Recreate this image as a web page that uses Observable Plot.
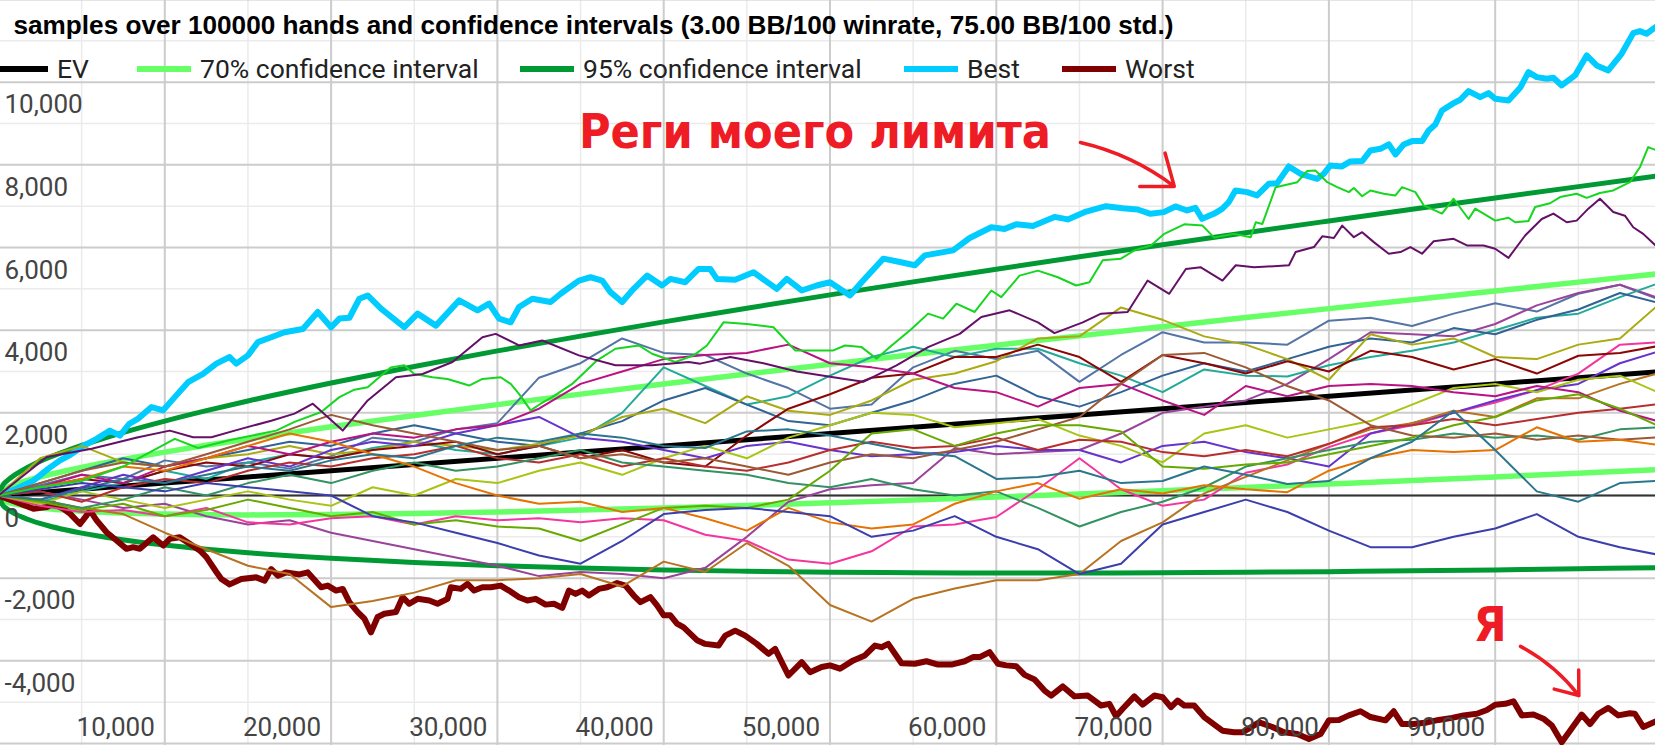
<!DOCTYPE html>
<html>
<head>
<meta charset="utf-8">
<script src="https://cdn.jsdelivr.net/npm/d3@7"></script>
<script src="https://cdn.jsdelivr.net/npm/@observablehq/plot@0.6"></script>
<style>
  html, body { margin: 0; padding: 0; background: #fff; overflow: hidden; }
  #wrap { position: relative; width: 1655px; height: 745px; overflow: hidden; }
  #overlay { position: absolute; left: 0; top: 0; pointer-events: none; }
</style>
</head>
<body>
<div id="wrap"></div>
<script>
// ---------------- DATA ----------------
const titleText = "samples over 100000 hands and confidence intervals (3.00 BB/100 winrate, 75.00 BB/100 std.)";
const legendLabels = ["EV", "70% confidence interval", "95% confidence interval", "Best", "Worst"];
const legendColors = ["#000000", "#66ff66", "#009933", "#00ccff", "#800000"];

const yLabelValues = [-4000, -2000, 0, 2000, 4000, 6000, 8000, 10000];
const xLabelValues = [10000, 20000, 30000, 40000, 50000, 60000, 70000, 80000, 90000];
const majorY = [-6000, -4000, -2000, 0, 2000, 4000, 6000, 8000, 10000, 12000];
const minorY = [-5000, -3000, -1000, 1000, 3000, 5000, 7000, 9000, 11000];
const majorX = [0, 10000, 20000, 30000, 40000, 50000, 60000, 70000, 80000, 90000, 100000];
const minorX = [5000, 15000, 25000, 35000, 45000, 55000, 65000, 75000, 85000, 95000];

// confidence curves (hands, BB)
const ciHands = [0,250,500,1000,1500,2000,3000,4000,5000,6000,8000,10000,12500,15000,20000,25000,30000,35000,40000,45000,50000,55000,60000,65000,70000,75000,80000,85000,90000,95000,100000];
const evLine  = [0,8,15,30,45,60,90,120,150,180,240,300,375,450,600,750,900,1050,1200,1350,1500,1650,1800,1950,2100,2250,2400,2550,2700,2850,3000];
const upper70 = [0,126,183,267,336,395,501,594,680,761,911,1050,1214,1369,1661,1936,2199,2453,2700,2941,3177,3409,3637,3862,4084,4304,4521,4737,4950,5162,5372];
const lower70 = [0,-111,-153,-207,-246,-275,-321,-354,-380,-401,-431,-450,-464,-469,-461,-436,-399,-353,-300,-241,-177,-109,-37,38,116,196,279,363,450,538,628];
const upper95 = [0,245,350,504,626,731,912,1069,1211,1342,1582,1800,2052,2287,2721,3122,3498,3856,4200,4532,4854,5168,5474,5774,6068,6358,6642,6923,7200,7473,7743];
const lower95 = [0,-230,-320,-444,-536,-611,-732,-829,-911,-982,-1102,-1200,-1302,-1387,-1521,-1622,-1698,-1756,-1800,-1832,-1854,-1868,-1874,-1874,-1868,-1858,-1842,-1823,-1800,-1773,-1743];

// Best sample [hands, BB]
const bestPath = [[0,0],[1000,150],[2100,360],[3000,650],[3700,850],[4300,980],[5100,1200],[5900,1370],[6700,1570],[7300,1450],[7850,1730],[8400,1860],[9200,2140],[9900,2060],[10600,2380],[11400,2740],[12300,2940],[13100,3190],[13900,3350],[14300,3190],[15000,3390],[15600,3710],[16400,3830],[17200,3950],[18300,4030],[19200,4440],[20000,4070],[20500,4280],[21100,4300],[21700,4760],[22200,4840],[23000,4520],[24400,4070],[25200,4400],[26300,4110],[27700,4720],[28800,4480],[29500,4640],[30100,4280],[30800,4190],[31300,4560],[32100,4760],[33200,4680],[33800,4880],[34900,5200],[35600,5280],[36300,5200],[36800,4920],[37500,4680],[38100,4960],[39000,5320],[39900,5080],[40400,5240],[41300,5160],[42100,5480],[42800,5480],[43200,5240],[44300,5220],[45400,5400],[46800,5000],[47400,5240],[48300,4960],[49200,5080],[50000,5160],[51200,4840],[51900,5160],[53200,5730],[54200,5650],[55100,5570],[55700,5810],[57400,5930],[58400,6230],[59700,6490],[60500,6450],[61200,6560],[62200,6520],[63500,6740],[64300,6680],[65400,6870],[66600,7000],[67600,6950],[68500,6920],[69270,6815],[70070,6856],[70770,6993],[71470,6896],[71970,6961],[72380,6694],[73080,6815],[73580,6936],[73980,7098],[74380,7380],[75080,7340],[75680,7259],[76380,7541],[76890,7557],[77590,7961],[78290,7783],[78790,7719],[79290,7662],[79690,7783],[80090,7985],[80790,7961],[81290,8082],[82000,8090],[82500,8348],[83100,8388],[83600,8493],[84000,8251],[84500,8493],[85000,8574],[85600,8574],[86000,8832],[86400,8977],[86800,9316],[87500,9493],[87900,9574],[88400,9783],[89100,9638],[89600,9735],[90000,9598],[90800,9558],[91500,9864],[92000,10243],[92500,10122],[93100,10082],[93500,10106],[94000,9921],[94800,10162],[95500,10646],[96100,10404],[96800,10283],[97600,10687],[98300,11187],[98700,11235],[99100,11171],[99640,11332]];

// Worst sample [hands, BB]
const worstPath = [[0,0],[1000,-150],[2100,-320],[2900,-280],[3300,-200],[3900,-320],[4300,-440],[4900,-690],[5300,-480],[5500,-360],[5900,-600],[6500,-890],[7100,-1090],[7700,-1290],[8100,-1250],[8500,-1290],[9300,-1010],[9900,-1210],[10300,-1050],[10900,-1010],[11500,-1170],[12100,-1330],[12500,-1490],[13100,-1850],[13400,-2020],[13900,-2150],[14600,-2020],[15500,-1980],[16000,-2060],[16400,-1780],[16800,-1940],[17300,-1860],[18100,-1910],[18600,-1860],[19400,-2220],[19800,-2180],[20300,-2300],[20700,-2260],[21100,-2580],[21600,-2820],[22000,-2980],[22400,-3310],[22800,-2940],[23200,-2860],[23900,-2820],[24300,-2460],[24700,-2620],[25200,-2500],[25900,-2540],[26400,-2620],[27000,-2500],[27200,-2220],[27800,-2260],[28200,-2140],[28600,-2300],[29100,-2220],[29600,-2220],[30200,-2180],[30700,-2300],[31300,-2460],[31800,-2540],[32300,-2500],[32900,-2640],[33400,-2620],[33900,-2720],[34300,-2300],[34700,-2380],[35100,-2300],[35500,-2420],[36100,-2260],[36600,-2220],[37200,-2120],[37700,-2180],[38200,-2420],[38600,-2580],[39200,-2460],[39600,-2660],[40000,-2900],[40400,-2900],[40800,-3100],[41200,-3190],[42000,-3500],[42500,-3590],[43300,-3630],[43700,-3390],[44300,-3270],[44900,-3390],[45600,-3590],[46300,-3830],[46700,-3710],[47500,-4355],[48300,-4030],[48800,-4275],[49500,-4150],[50000,-4110],[50600,-4190],[51400,-3990],[52100,-3870],[52700,-3630],[53100,-3670],[53500,-3590],[54300,-4060],[55100,-4070],[55800,-4010],[56500,-4090],[57300,-4090],[58100,-4010],[58600,-3910],[59000,-3910],[59600,-3790],[60100,-4070],[60600,-4110],[61200,-4130],[61700,-4340],[62300,-4450],[62900,-4720],[63300,-4840],[64000,-4620],[64700,-4860],[65500,-4840],[66300,-5080],[66800,-5040],[67200,-5340],[67600,-5160],[68300,-4860],[68800,-5060],[69500,-4840],[70000,-4880],[70500,-5120],[70900,-4960],[71300,-5080],[71900,-5080],[72500,-5360],[73600,-5690],[74300,-5730],[74800,-5730],[75800,-5490],[76600,-5600],[77300,-5730],[78100,-5770],[78800,-5890],[79500,-5770],[80000,-5440],[80600,-5430],[81200,-5320],[81900,-5220],[82500,-5360],[83400,-5440],[83900,-5220],[84400,-5530],[85100,-5530],[85900,-5490],[86600,-5430],[87400,-5380],[88100,-5320],[88900,-5280],[89500,-5190],[90000,-5060],[90600,-5040],[91100,-4980],[91600,-5320],[92300,-5300],[92900,-5400],[93400,-5560],[94000,-5970],[94500,-5690],[95200,-5300],[95700,-5530],[96200,-5280],[96800,-5140],[97400,-5320],[98100,-5270],[98400,-5280],[98900,-5600],[99640,-5470]];

// bright green sample [hands, BB]
const brightGreenPath = [[0,0],[2500,200],[5000,350],[7500,700],[10600,1370],[12000,1150],[14000,1350],[16700,1570],[17800,1780],[19400,2020],[20500,2380],[21400,2560],[22200,2620],[23000,2900],[23600,3100],[24400,3150],[25000,2940],[26100,2860],[27000,2820],[28300,2660],[29100,2820],[30200,2860],[30800,2700],[31300,2460],[32000,2060],[32600,2220],[33300,2380],[34500,2700],[36000,3270],[37100,3550],[38500,3630],[39300,3430],[40700,3230],[41800,3390],[42600,3630],[43600,4190],[45000,4150],[46600,4070],[47900,3510],[48700,3510],[50200,3510],[50900,3630],[51900,3590],[52800,3310],[53600,3590],[54900,4030],[55900,4400],[56800,4280],[57600,4640],[58700,4440],[59700,4960],[60300,4800],[61400,5320],[62500,5440],[63700,5280],[64800,5080],[65600,5160],[66400,5690],[67500,5730],[68300,5930],[69300,6050],[70100,6330],[71300,6560],[72400,6530],[73100,6240],[74300,6330],[75300,6250],[75600,6610],[76000,6570],[76800,7460],[78100,7580],[78700,7850],[79200,7860],[79900,7580],[80500,7460],[81200,7340],[81500,7440],[82000,7240],[82500,7380],[83300,7300],[84000,7260],[84400,7460],[85200,7340],[85700,7020],[86800,6820],[87500,7180],[88400,6690],[88800,6940],[90000,6650],[90800,6720],[91200,6610],[92000,6640],[92400,6980],[93300,7070],[93900,7220],[94900,7300],[95500,7200],[96300,7320],[97100,7380],[98100,7580],[98700,7940],[99200,8430],[99640,8360]];

// dark purple sample [hands, BB]
const darkPurplePath = [[0,0],[2900,930],[5600,1130],[8400,1410],[10300,1570],[11700,1410],[12800,1410],[14200,1570],[16400,1810],[17800,1980],[18900,2220],[20700,1570],[22200,2300],[23900,2860],[25500,2940],[27300,3230],[29100,3830],[29900,3910],[31300,3630],[32700,3750],[34900,3390],[37100,3150],[39300,3150],[41500,3230],[42200,3190],[44000,3350],[46000,3200],[48000,3000],[50200,2860],[52000,2750],[54000,3150],[55900,3590],[57800,3910],[59100,4320],[60800,4480],[62500,4190],[63500,3930],[65200,4190],[66300,4400],[67900,4440],[69100,5200],[70400,4880],[71400,5480],[72300,5520],[73600,5200],[74400,5570],[75500,5520],[77600,5570],[78000,5890],[79100,6010],[79600,6270],[80300,6230],[80800,6530],[81500,6250],[82000,6370],[82700,6130],[83600,5850],[84300,5890],[84900,6010],[85600,5850],[86300,6150],[87500,6210],[88300,6050],[89300,6050],[90000,5970],[90800,5750],[91800,6290],[92800,6690],[93500,6820],[94300,6610],[94900,6650],[95600,6940],[96300,7180],[97100,6860],[97800,6770],[98300,6490],[98900,6330],[99640,6050]];

// other samples on a 2,500-hand grid
const hands = [0,2500,5000,7500,10000,12500,15000,17500,20000,22500,25000,27500,30000,32500,35000,37500,40000,42500,45000,47500,50000,52500,55000,57500,60000,62500,65000,67500,70000,72500,75000,77500,80000,82500,85000,87500,90000,92500,95000,97500,100000];
const steelBlue   = [0,250,500,400,850,700,800,650,950,1400,1300,1600,1750,2850,3200,3800,3450,3400,2950,2600,2100,2200,3100,3500,3300,3500,2750,3400,3950,3700,3700,3650,4230,4300,4100,4400,4650,4450,4880,5100,4720];
const purple      = [0,100,-100,-300,-200,-500,-700,-600,-900,-1100,-1300,-1500,-1700,-1950,-1850,-1900,-2000,-1750,-1000,-150,150,250,300,1150,1000,1050,1100,1500,2000,2150,2300,2700,3300,3950,3900,3850,4150,4600,4900,5100,4750];
const teal        = [0,-150,100,300,600,400,800,1000,900,1150,1300,1100,1000,1200,1400,2000,3100,2650,2200,2400,2900,3350,3600,3350,3550,3550,3200,2900,2500,3050,2900,2880,3150,3350,3500,3700,4000,4300,4400,4800,5160];
const darkBlue    = [0,300,600,900,700,900,1100,1300,1200,1500,1700,1500,1300,1200,1500,1800,2300,2600,2200,1800,1700,2000,2300,2700,2900,2400,2150,2500,2900,3200,3000,3300,3600,3800,3700,4050,3900,4250,4500,4900,4640];
const olive       = [0,900,1200,800,700,900,1000,1200,1000,1100,1300,1200,1100,1250,1450,1900,2100,1750,2400,2050,1950,2300,2800,2950,3250,3800,3850,4550,4250,3850,3650,3300,2800,3900,3650,3800,3350,3300,3650,3800,4680];
const pink        = [0,-250,-400,-350,-500,-300,-650,-700,-550,-500,-700,-500,-600,-550,-650,-550,-600,-950,-1100,-1550,-1650,-1350,-750,-700,-520,150,900,150,-250,-100,550,750,1170,1500,1700,2000,2250,2550,2950,3650,3710];
const darkRed     = [0,200,400,300,600,800,700,1000,900,1100,1200,1300,1000,1200,900,1100,800,700,1450,2100,2450,2850,2950,3350,3350,3650,3350,2750,3400,3200,2950,3250,3000,3500,3350,3050,3300,2950,3380,3450,3630];
const violet      = [0,-100,200,500,300,600,900,700,1100,1300,1200,1500,1700,1900,1400,1300,1100,900,1200,1300,1100,950,1000,1050,1200,1100,1100,800,1200,1300,1050,900,700,1500,1750,2000,2300,2550,2700,3200,3510];
const orangeBrown = [0,-100,-300,-450,-900,-1300,-1700,-1900,-2700,-2550,-2350,-2050,-2050,-2000,-1900,-2200,-1600,-1850,-1150,-1700,-2650,-3050,-2500,-2250,-2050,-2050,-1900,-1100,-650,50,450,850,1250,1600,1750,2050,1900,2350,2350,2700,2980];
const yellowGreen = [0,-200,100,-100,-300,-100,100,-100,-250,200,0,400,300,600,800,500,900,1200,900,1400,1700,2000,1950,1650,1750,1850,1450,1200,800,1500,1700,1400,1600,1800,2200,2600,2700,2500,2800,2900,2460];
const red         = [0,100,-150,200,400,300,600,800,700,900,1000,1200,900,800,1000,700,900,700,600,800,1100,1300,1150,1200,1400,1100,1350,1300,1050,950,1100,950,1250,1650,1700,1850,1700,1850,2000,2100,2220];
const magenta     = [0,200,500,300,700,900,1200,1000,1300,1500,1400,1600,1700,2100,2700,3000,3300,3400,3450,3650,3200,3100,2950,2600,2500,2150,2600,2700,2300,1950,2650,2400,2650,2700,2650,2500,2400,2650,2500,2050,1775];
const seaGreen    = [0,-100,-300,-100,200,0,300,500,300,600,800,600,700,900,1100,800,700,600,500,300,200,400,150,0,100,-300,-750,-400,-150,200,700,900,1100,1300,1350,1500,1400,1450,1350,1600,1650];
const brown       = [0,300,600,800,700,1000,1300,1600,1950,1700,1500,1300,1100,1200,900,1000,800,900,700,500,800,1000,900,1100,1300,1600,1900,2700,3400,3450,3100,2650,2300,1700,1450,1400,1500,1350,1450,1350,1410];
const lime        = [0,-150,-350,-200,-500,-350,-100,-300,-500,-400,-700,-600,-750,-800,-1100,-700,-300,-250,-300,-100,600,1500,1600,1200,1500,1700,1700,1550,700,650,750,800,1000,1200,1400,1700,1900,2300,2450,2100,1650];
const orange      = [0,200,400,700,600,900,1200,1500,1300,1000,700,300,0,-200,-150,-400,-300,-550,-850,-300,-650,-800,-700,-200,100,300,-80,150,50,250,150,80,600,900,1100,1050,1100,1650,1300,1350,1210];
const tealBlue    = [0,-100,150,400,300,500,700,600,850,1000,900,1200,1400,1300,1500,1400,1200,1150,1550,1600,1450,1250,1050,950,400,450,600,300,350,700,500,280,350,900,1300,2050,1100,100,-150,300,363];
const indigo      = [0,150,300,200,100,300,200,100,0,-500,-650,-900,-1150,-1450,-1650,-1100,-450,-350,-300,-400,-500,-1000,-850,-500,-1000,-1300,-1900,-1650,-700,-400,-100,-400,-850,-1250,-1250,-1000,-800,-450,-1000,-1250,-1450];

const gridSeriesNames  = ["steelBlue","purple","teal","darkBlue","olive","pink","darkRed","violet","orangeBrown","yellowGreen","red","magenta","seaGreen","brown","lime","orange","tealBlue","indigo"];
const gridSeriesValues = [steelBlue,purple,teal,darkBlue,olive,pink,darkRed,violet,orangeBrown,yellowGreen,red,magenta,seaGreen,brown,lime,orange,tealBlue,indigo];
const gridSeriesColors = ["#5574a6","#994499","#22aa99","#316395","#aaaa11","#f4359e","#8b0707","#6633cc","#b77322","#a9c413","#b82e2e","#b91383","#329262","#9c5935","#66aa00","#e67300","#2a778d","#3b3eac"];

// annotations (hands, BB)
const noteLabels = ["Реги моего лимита", "Я"];
const noteHands  = [34900, 89700];
const noteBB     = [8400, -3510];
const arrowFromHands = [65060, 91520];
const arrowFromBB    = [8540, -3650];
const arrowToHands   = [70700, 95030];
const arrowToBB      = [7480, -4840];

// ---------------- BUILD ----------------
const ci = ciHands.map((n, i) => ({n, ev: evLine[i], u70: upper70[i], l70: lower70[i], u95: upper95[i], l95: lower95[i]}));
const samples = [];
gridSeriesNames.forEach((name, k) => gridSeriesValues[k].forEach((v, i) => samples.push({series: name, n: hands[i], v})));
const pathRows = (path, name) => path.map(([n, v]) => ({series: name, n, v}));
const extra = [...pathRows(brightGreenPath, "brightGreen"), ...pathRows(darkPurplePath, "darkPurple")];
const notes = noteLabels.map((label, i) => ({label, n: noteHands[i], v: noteBB[i]}));
const arrows = arrowFromHands.map((n, i) => ({x1: n, y1: arrowFromBB[i], x2: arrowToHands[i], y2: arrowToBB[i]}));
const fmt = d => d.toLocaleString("en-US");

const W = 1655, H = 745;
const chart = Plot.plot({
  width: W, height: H, margin: 0,
  style: {background: "#ffffff", overflow: "hidden"},
  x: {domain: [0, 100000], range: [-2, 1661], axis: null},
  y: {domain: [-6000, 12000], range: [743, -1], axis: null},
  color: {domain: [...gridSeriesNames, "brightGreen", "darkPurple"], range: [...gridSeriesColors, "#16d620", "#651067"]},
  marks: [
    Plot.ruleY(minorY, {stroke: "#ebebeb", strokeWidth: 1.5}),
    Plot.ruleX(minorX, {stroke: "#ebebeb", strokeWidth: 1.5}),
    Plot.ruleY(majorY, {stroke: "#cccccc", strokeWidth: 2}),
    Plot.ruleX(majorX, {stroke: "#cccccc", strokeWidth: 2}),
    Plot.ruleY([0], {stroke: "#333333", strokeWidth: 2}),
    Plot.line(ci, {x: "n", y: "u70", stroke: legendColors[1], strokeWidth: 5.5, curve: "monotone-x", clip: true}),
    Plot.line(ci, {x: "n", y: "l70", stroke: legendColors[1], strokeWidth: 5.5, curve: "monotone-x", clip: true}),
    Plot.line(ci, {x: "n", y: "u95", stroke: legendColors[2], strokeWidth: 5, curve: "monotone-x", clip: true}),
    Plot.line(ci, {x: "n", y: "l95", stroke: legendColors[2], strokeWidth: 5, curve: "monotone-x", clip: true}),
    Plot.line(ci, {x: "n", y: "ev", stroke: legendColors[0], strokeWidth: 5, clip: true}),
    Plot.line(bestPath, {x: d => d[0], y: d => d[1], stroke: legendColors[3], strokeWidth: 6, clip: true}),
    Plot.line(worstPath, {x: d => d[0], y: d => d[1], stroke: legendColors[4], strokeWidth: 6, clip: true}),
    Plot.line(samples, {x: "n", y: "v", z: "series", stroke: "series", strokeWidth: 2, clip: true}),
    Plot.line(extra, {x: "n", y: "v", z: "series", stroke: "series", strokeWidth: 2, clip: true}),
    Plot.text(yLabelValues, {y: d => d, text: fmt, frameAnchor: "left", dx: 4, dy: 31, textAnchor: "start", lineAnchor: "bottom", fontSize: 26, fontFamily: "Roboto", fill: "#444444"}),
    Plot.text(xLabelValues, {x: d => d, text: fmt, frameAnchor: "bottom", dx: -10, dy: -10, textAnchor: "end", lineAnchor: "bottom", fontSize: 26, fontFamily: "Roboto", fill: "#444444"}),
    Plot.arrow(arrows, {x1: "x1", y1: "y1", x2: "x2", y2: "y2", stroke: "#ee1c24", strokeWidth: 3.5, bend: 12, headLength: 30, headAngle: 75}),
    Plot.text(notes.slice(0, 1), {x: "n", y: "v", text: "label", textAnchor: "start", lineAnchor: "bottom", fontSize: 48, fontWeight: "bold", fontFamily: "DejaVu Sans Condensed, DejaVu Sans", fill: "#ee1c24", ariaLabel: "note-main"}),
    Plot.text(notes.slice(1), {x: "n", y: "v", text: "label", textAnchor: "middle", lineAnchor: "bottom", fontSize: 48, fontWeight: "bold", fontFamily: "DejaVu Sans Condensed, DejaVu Sans", fill: "#ee1c24"})
  ]
});
const wrap = document.getElementById("wrap");
wrap.appendChild(chart);
d3.select(chart).selectAll('g[aria-label="note-main"] text').attr("textLength", 464).attr("lengthAdjust", "spacingAndGlyphs");

// title + legend overlay
const ov = d3.select(wrap).append("svg").attr("id", "overlay").attr("width", W).attr("height", H);
ov.append("text").text(titleText)
  .attr("x", 13.5).attr("y", 34)
  .attr("font-family", "Liberation Sans, Arial, sans-serif").attr("font-weight", "bold").attr("font-size", 26.2)
  .attr("fill", "#000").attr("textLength", 1160).attr("lengthAdjust", "spacingAndGlyphs");
const legendX = [-6, 137, 520, 904, 1062];
legendLabels.forEach((label, i) => {
  ov.append("line").attr("x1", legendX[i]).attr("x2", legendX[i] + 54).attr("y1", 69).attr("y2", 69)
    .attr("stroke", legendColors[i]).attr("stroke-width", 6);
  ov.append("text").text(label).attr("x", legendX[i] + 63).attr("y", 78)
    .attr("font-family", "Roboto").attr("font-size", 26.5).attr("fill", "#222222");
});
</script>
</body>
</html>
